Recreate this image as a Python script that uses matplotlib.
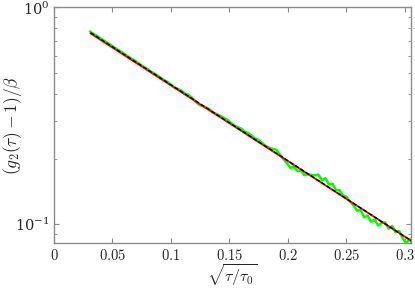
import matplotlib
matplotlib.use('Agg')
import matplotlib.pyplot as plt
import matplotlib.ticker as ticker
import numpy as np

# parameters
FIG_NAME = 'out.png'
X_LABEL = r'$\sqrt{\tau/\tau_0}$'
Y_LABEL = r'$(g_2(\tau)-1)/\beta$'
AXIS_GREY = '#8c8c8c'
TEXT_COLOR = '#262626'

# measured data (green), sampled every 0.003 in sqrt(tau/tau0)
x_data = np.round(0.031 + 0.003 * np.arange(93), 4)
y_data = [
    0.7735, 0.7534, 0.7377, 0.7185, 0.7020, 0.6831, 0.6696, 0.6514, 0.6365, 0.6219,
    0.6051, 0.5913, 0.5760, 0.5645, 0.5492, 0.5350, 0.5238, 0.5091, 0.4985, 0.4876,
    0.4739, 0.4631, 0.4530, 0.4402, 0.4274, 0.4203, 0.4120, 0.4000, 0.3954, 0.3823,
    0.3688, 0.3561, 0.3502, 0.3455, 0.3383, 0.3275, 0.3220, 0.3156, 0.3093, 0.3038,
    0.2941, 0.2855, 0.2807, 0.2757, 0.2669, 0.2633, 0.2556, 0.2477, 0.2438, 0.2365,
    0.2294, 0.2248, 0.2222, 0.2203, 0.2094, 0.2002, 0.1912, 0.1818, 0.1842, 0.1759,
    0.1764, 0.1685, 0.1698, 0.1684, 0.1679, 0.1692, 0.1591, 0.1629, 0.1524, 0.1536,
    0.1436, 0.1433, 0.1354, 0.1336, 0.1269, 0.1220, 0.1153, 0.1162, 0.1075, 0.1095,
    0.1025, 0.1049, 0.0986, 0.1010, 0.1018, 0.0952, 0.0980, 0.0916, 0.0929, 0.0859,
    0.0817, 0.0854, 0.0791,
]

# fitted exponentials (straight on a log axis -> end points are enough)
x_fit = [0.0314, 0.305]
y_fit_red = [0.758, 0.0839]
y_fit_black = [0.765, 0.0839]

x_ticks = [0, 0.05, 0.1, 0.15, 0.2, 0.25, 0.3]
x_tick_labels = ['0', '0.05', '0.1', '0.15', '0.2', '0.25', '0.3']

plt.rcParams['mathtext.fontset'] = 'cm'
plt.rcParams['font.family'] = 'serif'
plt.rcParams['font.serif'] = ['DejaVu Serif']

fig = plt.figure(figsize=(4.15, 2.88), dpi=100)
ax = fig.add_axes([0.130, 0.156, 0.860, 0.818])

ax.plot(x_data, y_data, color='#00ff00', lw=1.8, zorder=2)
ax.plot(x_fit, y_fit_red, color='red', lw=1.3, zorder=3)
ax.plot(x_fit, y_fit_black, color='black', lw=1.0, ls=(0, (3, 1.5)), zorder=4)

ax.set_yscale('log')
ax.set_xlim(0, 0.305)
ax.set_ylim(0.0817, 1)

# ticks: matlab-like, inward on all sides
ax.set_xticks(x_ticks)
ax.set_xticklabels(['$' + t + '$' for t in x_tick_labels])
ax.yaxis.set_major_locator(ticker.LogLocator(base=10))
ax.yaxis.set_minor_locator(ticker.LogLocator(base=10, subs=np.arange(2, 10)))
ax.yaxis.set_minor_formatter(ticker.NullFormatter())
ax.tick_params(which='both', direction='in', top=True, right=True,
               color=AXIS_GREY, labelcolor=TEXT_COLOR, labelsize=10.5)
ax.tick_params(which='major', length=3.5, width=0.8)
ax.tick_params(which='minor', length=2, width=0.6)
for s in ax.spines.values():
    s.set_color(AXIS_GREY)
    s.set_linewidth(1.0)

ax.set_xlabel(X_LABEL, fontsize=11.5, color=TEXT_COLOR)
ax.set_ylabel(Y_LABEL, fontsize=12.5, color=TEXT_COLOR)
ax.xaxis.set_label_coords(0.5, -0.083)
ax.yaxis.set_label_coords(-0.083, 0.5)

fig.savefig(FIG_NAME, dpi=100)
plt.close(fig)
